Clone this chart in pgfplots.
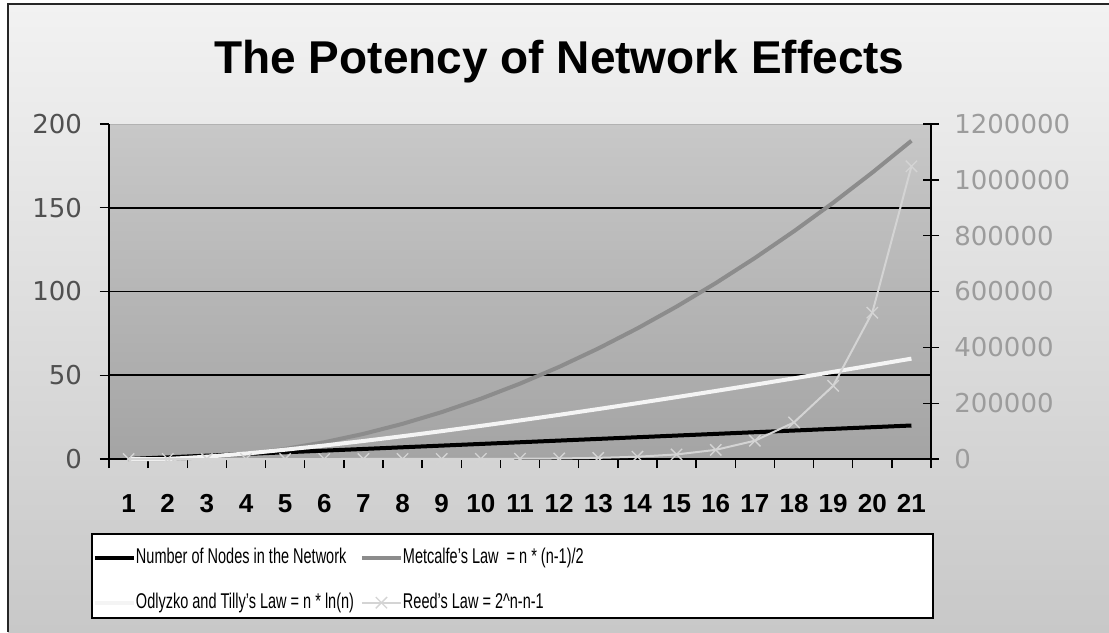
\documentclass[border=0pt]{standalone}
\usepackage{fontspec}
\setmainfont{Liberation Sans}
\newfontfamily\tickfont{DejaVu Sans}
\usepackage{graphicx}
\usepackage{pgfplots}
\pgfplotsset{compat=1.18}
\definecolor{bgtop}{HTML}{F2F2F2}
\definecolor{bgbot}{HTML}{C8C8C8}
\definecolor{patop}{HTML}{C8C8C8}
\definecolor{pabot}{HTML}{A4A4A4}
\definecolor{metc}{HTML}{8C8C8C}
\definecolor{odly}{HTML}{F4F4F4}
\definecolor{reed}{HTML}{D4D4D4}
\definecolor{lefttick}{HTML}{505050}
\definecolor{righttick}{HTML}{9C9C9C}
\newcommand{\leg}[1]{\scalebox{0.68}[1]{\fontsize{16}{16}\selectfont #1}}
\begin{document}
\begin{tikzpicture}
\path[use as bounding box] (0,0) rectangle (831.75pt,-474pt);
\fill[white] (0,0) rectangle (831.75pt,-474pt);
\shade[top color=bgtop, bottom color=bgbot] (6pt,-3pt) rectangle (831.75pt,-474pt);
\draw[black!85, line width=1.5pt] (6pt,-474pt) -- (6pt,-3pt) -- (831.75pt,-3pt);
\node[font=\bfseries\fontsize{34.5}{34.5}\selectfont, anchor=base] at (419.6pt,-55pt) {The Potency of Network Effects};
\draw[black, line width=1.2pt, fill=white] (69pt,-400.5pt) rectangle (699.75pt,-463.5pt);

\begin{axis}[
  at={(81.75pt,-344.25pt)}, anchor=south west,
  width=616.5pt, height=251.25pt, scale only axis,
  xmin=0.5, xmax=21.5, ymin=0, ymax=200,
  axis x line*=bottom, axis y line*=left,
  axis line style={-, black, line width=1.3pt},
  axis background/.style={top color=patop, bottom color=pabot, draw=gray!60},
  xtick={1,...,21},
  major x tick style={draw=none},
  minor xtick={0.5,1.5,...,21.5},
  minor tick length=6.75pt,
  minor x tick style={black, line width=1pt},
  ytick={0,50,...,200},
  major tick length=6.75pt,
  tick align=outside,
  major y tick style={black, line width=1pt},
  extra y ticks={50,100,150},
  extra y tick labels={},
  extra y tick style={grid=major},
  major grid style={black, line width=1.2pt},
  /pgf/number format/assume math mode=true,
  xticklabel style={font=\bfseries\fontsize{19.5}{19.5}\selectfont, black, anchor=base, yshift=-33pt},
  yticklabel style={font=\tickfont\fontsize{19.5}{19.5}\selectfont, lefttick, anchor=east, xshift=-10pt},
  clip=false,
]
\addplot[black, line width=3pt] coordinates {
(1,0) (2,1) (3,2) (4,3) (5,4) (6,5) (7,6) (8,7) (9,8) (10,9) (11,10)
(12,11) (13,12) (14,13) (15,14) (16,15) (17,16) (18,17) (19,18) (20,19) (21,20)};
\addplot[metc, line width=3pt] coordinates {
(1,0) (2,0) (3,1) (4,3) (5,6) (6,10) (7,15) (8,21) (9,28) (10,36) (11,45)
(12,55) (13,66) (14,78) (15,91) (16,105) (17,120) (18,136) (19,153) (20,171) (21,190)};
\addplot[odly, line width=3pt] coordinates {
(1,0) (2,0) (3,1.386) (4,3.296) (5,5.545) (6,8.047) (7,10.751) (8,13.621) (9,16.636) (10,19.775) (11,23.026)
(12,26.377) (13,29.819) (14,33.344) (15,36.947) (16,40.621) (17,44.361) (18,48.165) (19,52.026) (20,55.944) (21,59.915)};
\end{axis}

\begin{axis}[
  at={(81.75pt,-344.25pt)}, anchor=south west,
  width=616.5pt, height=251.25pt, scale only axis,
  xmin=0.5, xmax=21.5, ymin=0, ymax=1200000,
  axis x line=none, axis y line*=right,
  axis line style={-, black, line width=1.3pt},
  ytick={0,200000,...,1200000},
  scaled y ticks=false,
  tick align=center,
  major tick length=12pt,
  major y tick style={black, line width=1pt},
  /pgf/number format/assume math mode=true,
  yticklabel style={font=\tickfont\fontsize{19.5}{19.5}\selectfont, righttick, anchor=west, xshift=8pt,
    /pgf/number format/.cd, fixed, 1000 sep={}},
  clip=false,
  legend columns=2,
  legend style={draw=none, fill=none, inner sep=0pt, outer sep=0pt,
    at={(axis description cs:-0.0195,-0.2636)}, anchor=north west,
    nodes={inner sep=0pt, text height=12pt, text depth=3.5pt},
    row sep=18.25pt},
  legend cell align=left,
  legend image code/.code={\draw[#1, mark repeat=2, mark phase=2] plot coordinates {(0pt,0pt) (14.6pt,0pt) (29.25pt,0pt)};},
]
\addlegendimage{black, line width=3pt}
\addlegendentry{\makebox[168pt][l]{\leg{Number of Nodes in the Network}}}
\addlegendimage{metc, line width=3pt}
\addlegendentry{\leg{Metcalfe's Law\ \ = n * (n-1)/2}}
\addlegendimage{odly, line width=3pt}
\addlegendentry{\makebox[168pt][l]{\leg{Odlyzko and Tilly's Law = n * ln(n)}}}
\addplot[reed, line width=1.5pt, mark=x, mark size=6pt, mark options={reed, line width=1pt}] coordinates {
(1,0) (2,0) (3,1) (4,4) (5,11) (6,26) (7,57) (8,120) (9,247) (10,502) (11,1013)
(12,2036) (13,4083) (14,8178) (15,16369) (16,32752) (17,65519) (18,131054) (19,262125) (20,524268) (21,1048555)};
\addlegendentry{\leg{Reed's Law = 2\textasciicircum n-n-1}}
\end{axis}
\end{tikzpicture}
\end{document}
